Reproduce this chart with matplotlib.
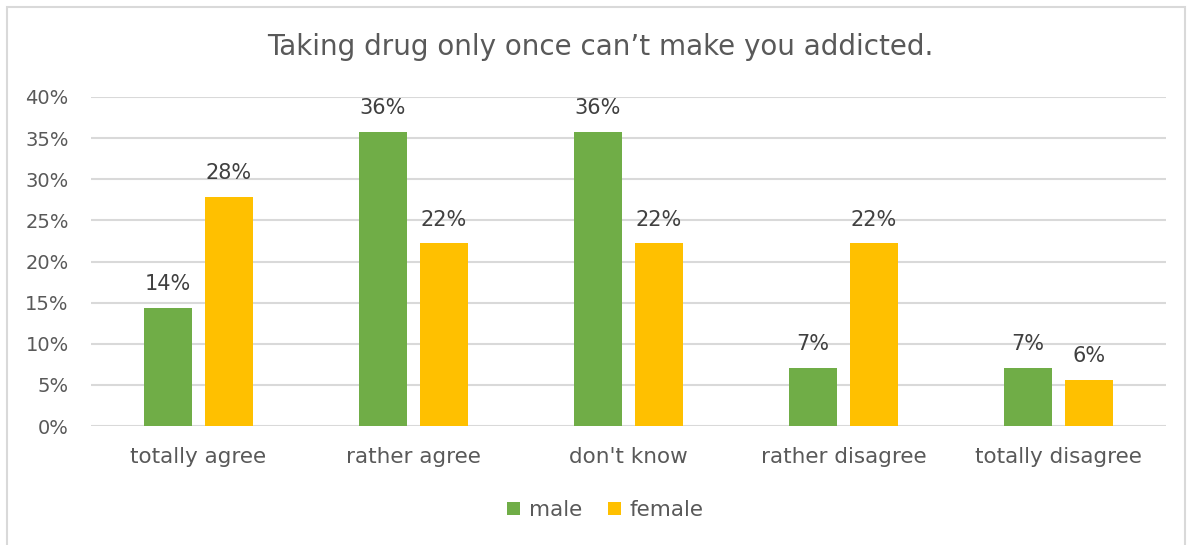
import matplotlib
matplotlib.use("Agg")
import matplotlib.pyplot as plt
import numpy as np
from matplotlib.patches import Rectangle

categories = ["totally agree", "rather agree", "don't know", "rather disagree", "totally disagree"]
male = [14.3, 35.7, 35.7, 7.1, 7.1]
female = [27.8, 22.2, 22.2, 22.2, 5.6]
yticks = [0, 5, 10, 15, 20, 25, 30, 35, 40]
title = "Taking drug only once can\u2019t make you addicted."

plt.rcParams['font.family'] = ['DejaVu Sans']
txt = "#595959"
green = "#70AD47"
yellow = "#FFC000"

fig = plt.figure(figsize=(11.92, 5.45), dpi=100)
fig.patches.append(Rectangle((7/1192, -0.05), (1185-7)/1192, 1.05 - 7/545, transform=fig.transFigure,
                             fill=False, edgecolor="#D9D9D9", linewidth=1.5))
ax = fig.add_axes([91/1192, 1 - 426/545, (1166 - 91)/1192, (426 - 97)/545])

x = np.arange(len(categories))
w = 0.223
off = 0.142
b1 = ax.bar(x - off, male, w, color=green, label="male", zorder=3)
b2 = ax.bar(x + off, female, w, color=yellow, label="female", zorder=3)
for bars, vals in ((b1, male), (b2, female)):
    for b, v in zip(bars, vals):
        ax.annotate(f"{round(v)}%", (b.get_x() + b.get_width()/2, v), xytext=(0, 10),
                    textcoords="offset points", ha="center", va="bottom", fontsize=15, color="#404040")

ax.set_xlim(-0.5, 4.5)
ax.set_ylim(0, 40)
ax.set_yticks(yticks)
ax.set_yticklabels([f"{t}%" for t in yticks])
ax.set_xticks(x)
ax.set_xticklabels(categories)
ax.tick_params(axis="both", length=0, colors=txt)
ax.tick_params(axis="x", pad=15, labelsize=15.5)
ax.tick_params(axis="y", pad=16, labelsize=14)
ax.grid(axis="y", color="#D9D9D9", linewidth=1.5, zorder=0)
for s in ax.spines.values():
    s.set_visible(False)

fig.text(0.5035, 1 - 47/545, title, ha="center", va="center", fontsize=20, color=txt)
fig.legend(handles=[b1, b2], labels=["male", "female"], loc="center", bbox_to_anchor=(0.508, 1 - 510/545),
           ncol=2, frameon=False, fontsize=15.5, labelcolor=txt, handlelength=0.6, handleheight=0.6,
           columnspacing=1.2, handletextpad=0.4)

fig.savefig("out.png", dpi=100)
